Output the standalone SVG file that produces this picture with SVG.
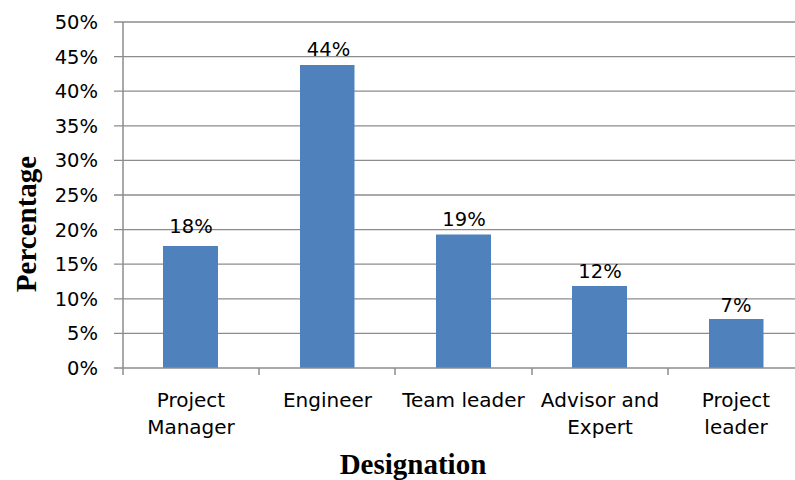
<svg xmlns="http://www.w3.org/2000/svg" width="795" height="480" viewBox="0 0 795 480">
<style>
.grid{stroke:#8c8c8c;stroke-width:1.3;fill:none}
.axis{stroke:#8c8c8c;stroke-width:1.5;fill:none}
.bar{fill:#4f81bd}
.tick{font-family:"DejaVu Sans",sans-serif;font-size:19.5px;fill:#000;text-anchor:end}
.lbl{font-family:"DejaVu Sans",sans-serif;font-size:19.5px;fill:#000;text-anchor:middle}
.cat{font-family:"DejaVu Sans",sans-serif;font-size:20px;fill:#000;text-anchor:middle}
.title{font-family:"Liberation Serif","Times New Roman",serif;font-size:29px;font-weight:bold;fill:#000;text-anchor:middle}
</style>
<rect width="795" height="480" fill="#fff"/>
<g id="gridlines">
<line class="grid" x1="114" y1="22" x2="795" y2="22"/>
<line class="grid" x1="114" y1="56.6" x2="795" y2="56.6"/>
<line class="grid" x1="114" y1="91.2" x2="795" y2="91.2"/>
<line class="grid" x1="114" y1="125.8" x2="795" y2="125.8"/>
<line class="grid" x1="114" y1="160.4" x2="795" y2="160.4"/>
<line class="grid" x1="114" y1="195" x2="795" y2="195"/>
<line class="grid" x1="114" y1="229.6" x2="795" y2="229.6"/>
<line class="grid" x1="114" y1="264.2" x2="795" y2="264.2"/>
<line class="grid" x1="114" y1="298.8" x2="795" y2="298.8"/>
<line class="grid" x1="114" y1="333.4" x2="795" y2="333.4"/>
</g>
<g id="y-ticks">
<text class="tick" x="98" y="29">50%</text>
<text class="tick" x="98" y="63.6">45%</text>
<text class="tick" x="98" y="98.2">40%</text>
<text class="tick" x="98" y="132.8">35%</text>
<text class="tick" x="98" y="167.4">30%</text>
<text class="tick" x="98" y="202">25%</text>
<text class="tick" x="98" y="236.6">20%</text>
<text class="tick" x="98" y="271.2">15%</text>
<text class="tick" x="98" y="305.8">10%</text>
<text class="tick" x="98" y="340.4">5%</text>
<text class="tick" x="98" y="375">0%</text>
</g>
<g id="bar-project-manager">
<rect class="bar" x="163" y="246" width="55" height="122"/>
<text class="lbl" x="191" y="232.5">18%</text>
</g>
<g id="bar-engineer">
<rect class="bar" x="300" y="65" width="54.5" height="303"/>
<text class="lbl" x="328.5" y="56">44%</text>
</g>
<g id="bar-team-leader">
<rect class="bar" x="436" y="234.5" width="55" height="133.5"/>
<text class="lbl" x="464" y="226">19%</text>
</g>
<g id="bar-advisor">
<rect class="bar" x="572" y="286" width="55" height="82"/>
<text class="lbl" x="600" y="278">12%</text>
</g>
<g id="bar-project-leader">
<rect class="bar" x="709" y="319" width="54.5" height="49"/>
<text class="lbl" x="736" y="311.5">7%</text>
</g>
<g id="axes">
<line class="axis" x1="123" y1="22" x2="123" y2="375"/>
<line class="axis" x1="114" y1="368" x2="795" y2="368"/>
<line class="axis" x1="259" y1="368" x2="259" y2="375"/>
<line class="axis" x1="395" y1="368" x2="395" y2="375"/>
<line class="axis" x1="532" y1="368" x2="532" y2="375"/>
<line class="axis" x1="668" y1="368" x2="668" y2="375"/>
</g>
<g id="categories">
<text class="cat" x="191" y="406.5">Project</text>
<text class="cat" x="191" y="433.5">Manager</text>
<text class="cat" x="327.5" y="406.5">Engineer</text>
<text class="cat" x="463.5" y="406.5">Team leader</text>
<text class="cat" x="600" y="406.5">Advisor and</text>
<text class="cat" x="600" y="433.5">Expert</text>
<text class="cat" x="736" y="406.5">Project</text>
<text class="cat" x="736" y="433.5">leader</text>
</g>
<g id="axis-titles">
<text class="title" x="413" y="474">Designation</text>
<text class="title" transform="translate(36,224) rotate(-90)" x="0" y="0">Percentage</text>
</g>
</svg>
